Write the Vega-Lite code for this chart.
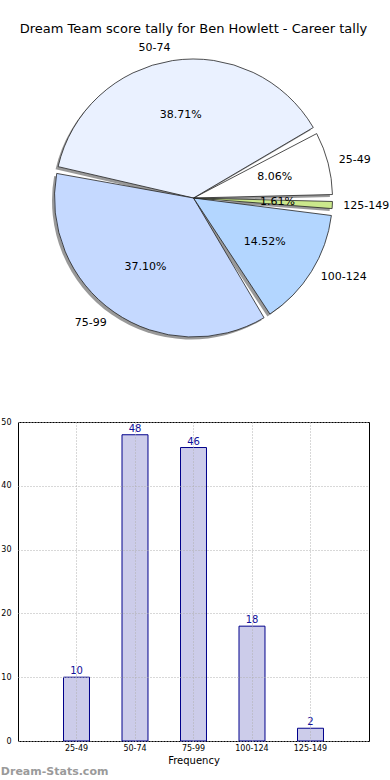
{
  "$schema": "https://vega.github.io/schema/vega-lite/v6.json",
  "padding": {"left": 0, "top": 22, "right": 0, "bottom": 0},
  "config": {
    "font": "DejaVu Sans",
    "view": {"stroke": null},
    "axis": {"labelColor": "#000", "titleColor": "#000", "labelFont": "DejaVu Sans", "titleFont": "DejaVu Sans"}
  },
  "datasets": {
    "tally": [
      {"range": "25-49", "lo": 25, "count": 10, "pct": "8.06%"},
      {"range": "50-74", "lo": 50, "count": 48, "pct": "38.71%"},
      {"range": "75-99", "lo": 75, "count": 46, "pct": "37.10%"},
      {"range": "100-124", "lo": 100, "count": 18, "pct": "14.52%"},
      {"range": "125-149", "lo": 125, "count": 2, "pct": "1.61%"}
    ]
  },
  "spacing": 70,
  "vconcat": [
    {
      "width": 351,
      "height": 298,
      "title": {"text": "Dream Team score tally for Ben Howlett - Career tally", "frame": "group", "anchor": "middle", "fontSize": 13, "fontWeight": "normal", "color": "#000", "offset": 6},
      "data": {"name": "tally"},
      "encoding": {
        "theta": {"field": "count", "type": "quantitative", "stack": true, "scale": {"range": [1.5708, -4.7124]}},
        "order": {"field": "lo", "type": "quantitative", "sort": "ascending"},
        "detail": {"field": "range", "type": "nominal"}
      },
      "layer": [
        {"mark": {"type": "arc", "outerRadius": 139, "padAngle": 0.05, "fill": "#808080", "opacity": 0.8, "xOffset": -2.5, "yOffset": 2.5}},
        {
          "mark": {"type": "arc", "outerRadius": 139, "padAngle": 0.05, "stroke": "#222222", "strokeWidth": 0.8},
          "encoding": {
            "color": {"field": "range", "type": "nominal", "legend": null,
              "scale": {"domain": ["25-49", "50-74", "75-99", "100-124", "125-149"], "range": ["#ffffff", "#eaf1ff", "#c5d9ff", "#b3d6ff", "#cbe88c"]}}
          }
        },
        {"mark": {"type": "text", "radius": 84, "fontSize": 11, "color": "#000"}, "encoding": {"text": {"field": "pct"}}},
        {"mark": {"type": "text", "radius": 150, "align": "left", "fontSize": 11, "color": "#000"},
          "encoding": {"text": {"condition": {"test": "datum.lo < 50 || datum.lo >= 100", "field": "range"}, "value": ""}}},
        {"mark": {"type": "text", "radius": 152, "align": "right", "fontSize": 11, "color": "#000"},
          "encoding": {"text": {"condition": {"test": "datum.lo >= 50 && datum.lo < 100", "field": "range"}, "value": ""}}}
      ]
    },
    {
      "width": 351,
      "height": 319,
      "view": {"stroke": "#000", "strokeWidth": 1},
      "title": {"text": "Dream-Stats.com", "orient": "bottom", "anchor": "start", "frame": "bounds", "fontSize": 11, "fontWeight": "bold", "color": "#9a9a9a", "offset": 1},
      "data": {"name": "tally"},
      "encoding": {
        "x": {"field": "range", "type": "nominal", "sort": ["25-49", "50-74", "75-99", "100-124", "125-149"],
          "scale": {"paddingInner": 0.556, "paddingOuter": 0.778},
          "axis": {"title": "Frequency", "labelAngle": 0, "grid": true, "bandPosition": 0.5, "domain": false, "ticks": false,
            "labelFontSize": 8, "titleFontSize": 10, "titleFontWeight": "normal", "labelPadding": 3, "titlePadding": 3,
            "gridDash": [1, 2], "gridColor": "#b0b0b0", "zindex": 1}},
        "y": {"field": "count", "type": "quantitative", "scale": {"domain": [0, 50], "nice": false},
          "axis": {"title": null, "values": [0, 10, 20, 30, 40, 50], "grid": true, "domain": false, "ticks": false,
            "labelFontSize": 8, "labelPadding": 7, "gridDash": [1, 2], "gridColor": "#b0b0b0", "zindex": 1}}
      },
      "layer": [
        {"mark": {"type": "bar", "fill": "#ccccea", "stroke": "#00008b", "strokeWidth": 1}},
        {"mark": {"type": "text", "baseline": "bottom", "dy": -1, "fontSize": 10, "color": "#10109a"}, "encoding": {"text": {"field": "count"}}}
      ]
    }
  ]
}
